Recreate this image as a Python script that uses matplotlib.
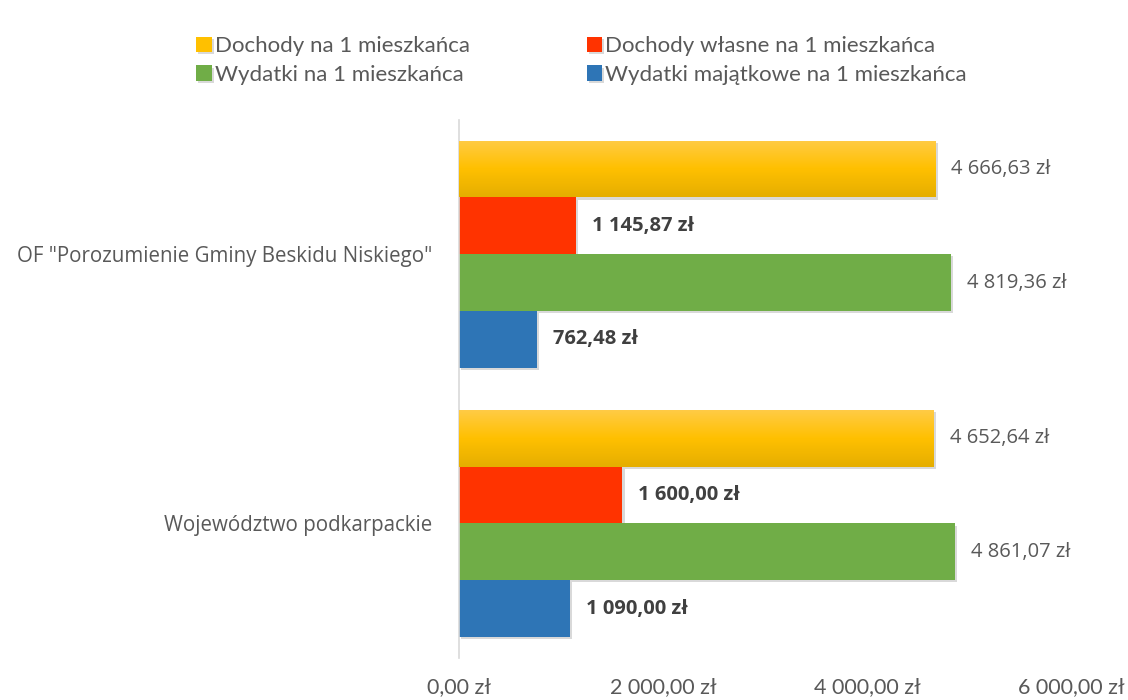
import matplotlib
matplotlib.use("Agg")
import matplotlib.pyplot as plt
import matplotlib.patheffects as pe
from matplotlib.colors import LinearSegmentedColormap
import numpy as np

categories = ['OF "Porozumienie Gminy Beskidu Niskiego"', "Województwo podkarpackie"]
series = ["Dochody na 1 mieszkańca", "Dochody własne na 1 mieszkańca",
          "Wydatki na 1 mieszkańca", "Wydatki majątkowe na 1 mieszkańca"]
dochody = [4666.63, 4652.64]
dochody_wlasne = [1145.87, 1600.00]
wydatki = [4819.36, 4861.07]
wydatki_majatkowe = [762.48, 1090.00]
values = [dochody, dochody_wlasne, wydatki, wydatki_majatkowe]
bold_labels = [False, True, False, True]
colors = ["#FFC000", "#FF3300", "#70AD47", "#2E75B6"]
xticks = [0, 2000, 4000, 6000]


def fmt(v):
    s = f"{v:,.2f}".replace(",", " ").replace(".", ",")
    return s + " zł"


fig = plt.figure(figsize=(11.28, 7.0), dpi=100)
ax = fig.add_axes([0.407, 0.06, 0.543, 0.769])

h = 0.211
y = np.arange(len(categories))
offsets = [-1.5 * h, -0.5 * h, 0.5 * h, 1.5 * h]
yellow_cmap = LinearSegmentedColormap.from_list("yel", ["#FFCB45", "#FFC000", "#E5AE00"])
shadow = [pe.SimplePatchShadow(offset=(1.5, -1.5), shadow_rgbFace="#000000", alpha=0.15), pe.Normal()]

handles = []
for i, (vals, col) in enumerate(zip(values, colors)):
    bars = ax.barh(y + offsets[i], vals, height=h, color=col, label=series[i],
                   path_effects=shadow, zorder=2)
    handles.append(bars)
    for b, v in zip(bars, vals):
        if i == 0:
            grad = np.linspace(0, 1, 100).reshape(-1, 1)
            y0 = b.get_y()
            im = ax.imshow(grad, cmap=yellow_cmap, aspect="auto", zorder=3,
                           extent=[0, v, y0 + h, y0], origin="upper")
            im.set_clip_path(b)
        ax.annotate(fmt(v), (v, b.get_y() + h / 2), xytext=(11.5, 0),
                    textcoords="offset points", va="center", ha="left",
                    fontsize=14.5, family="Open Sans",
                    fontweight="bold" if bold_labels[i] else "normal",
                    color="#404040" if bold_labels[i] else "#595959")

ax.set_xlim(0, 6000)
ax.set_ylim(1.5, -0.5)
ax.set_xticks(xticks)
ax.set_xticklabels([fmt(t) for t in xticks], family="Lato", fontsize=15.5, color="#595959")
ax.set_yticks(y)
ax.set_yticklabels(categories, family="Open Sans", fontsize=14.8, color="#595959")
ax.tick_params(axis="both", length=0)
ax.tick_params(axis="x", pad=14)
ax.tick_params(axis="y", pad=19.5)
for s in ["top", "right", "bottom"]:
    ax.spines[s].set_visible(False)
ax.spines["left"].set_color("#D9D9D9")
ax.spines["left"].set_linewidth(1.2)

order = [0, 2, 1, 3]
fig.legend(handles=[handles[k] for k in order], labels=[series[k] for k in order],
           loc="upper left", ncol=2,
           bbox_to_anchor=(0.156, 0.977), frameon=False,
           prop={"family": "Lato", "size": 16}, labelcolor="#595959",
           handlelength=0.7, handleheight=0.7, handletextpad=0.15,
           columnspacing=5.25, labelspacing=0.4)

fig.savefig("out.png", dpi=100)
